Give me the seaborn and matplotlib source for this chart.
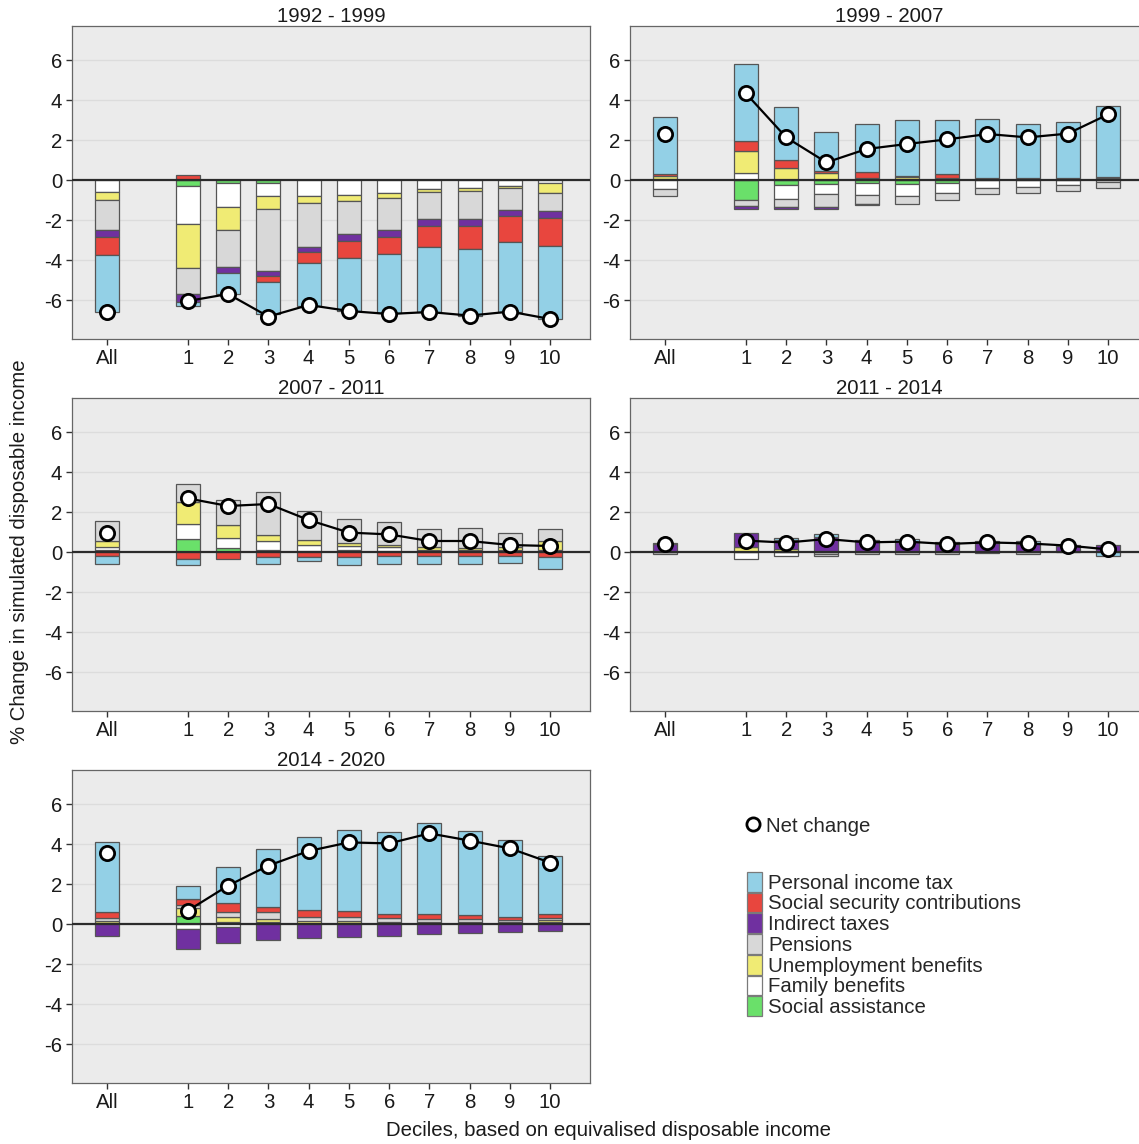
import numpy as np
import pandas as pd
import matplotlib
matplotlib.use("Agg")
import matplotlib.pyplot as plt
import seaborn as sns
from matplotlib.patches import Patch
from matplotlib.lines import Line2D

# ---------------- data ----------------
groups = ["All", "1", "2", "3", "4", "5", "6", "7", "8", "9", "10"]
periods = ["1992 - 1999", "1999 - 2007", "2007 - 2011", "2011 - 2014", "2014 - 2020"]
components = ["Personal income tax", "Social security contributions", "Indirect taxes",
              "Pensions", "Unemployment benefits", "Family benefits", "Social assistance"]
comp_colors = ["#93D0E6", "#E8463E", "#7030A0", "#D8D8D8", "#F0EB74", "#FFFFFF", "#6AE06A"]

# 1992 - 1999
pit_1 = [-2.87, -0.20, -1.03, -1.58, -2.12, -2.63, -2.95, -3.28, -3.33, -3.53, -3.67]
ssc_1 = [-0.92, 0.23, 0.00, -0.30, -0.55, -0.87, -0.87, -1.05, -1.18, -1.27, -1.37]
ind_1 = [-0.33, -0.38, -0.33, -0.28, -0.28, -0.33, -0.33, -0.33, -0.33, -0.32, -0.37]
pen_1 = [-1.50, -1.32, -1.82, -3.08, -2.17, -1.67, -1.63, -1.33, -1.42, -1.08, -0.88]
une_1 = [-0.40, -2.18, -1.18, -0.67, -0.38, -0.30, -0.22, -0.15, -0.12, -0.12, -0.50]
fam_1 = [-0.60, -1.90, -1.17, -0.65, -0.78, -0.75, -0.67, -0.47, -0.42, -0.30, -0.17]
sa_1 = [0.00, -0.30, -0.17, -0.13, 0.00, 0.00, 0.00, 0.00, 0.00, 0.00, 0.00]
net_1 = [-6.62, -6.05, -5.70, -6.83, -6.25, -6.55, -6.70, -6.60, -6.78, -6.58, -6.95]

# 1999 - 2007
pit_2 = [2.87, 3.85, 2.63, 1.91, 2.38, 2.78, 2.73, 2.93, 2.74, 2.78, 3.57]
ssc_2 = [0.10, 0.48, 0.42, 0.14, 0.28, 0.00, 0.20, 0.00, 0.00, 0.00, 0.00]
ind_2 = [0.00, -0.17, -0.13, -0.10, -0.05, 0.05, 0.00, 0.10, 0.08, 0.10, 0.07]
pen_2 = [-0.35, -0.28, -0.36, -0.65, -0.45, -0.43, -0.37, -0.33, -0.34, -0.28, -0.30]
une_2 = [0.13, 1.14, 0.58, 0.33, 0.12, 0.15, 0.08, 0.00, 0.00, 0.00, 0.08]
fam_2 = [-0.45, 0.33, -0.72, -0.50, -0.60, -0.57, -0.50, -0.38, -0.33, -0.25, -0.12]
sa_2 = [0.05, -1.00, -0.25, -0.22, -0.15, -0.22, -0.13, 0.00, 0.00, 0.00, 0.00]
net_2 = [2.28, 4.33, 2.13, 0.88, 1.55, 1.80, 2.03, 2.30, 2.13, 2.32, 3.28]

# 2007 - 2011
pit_3 = [-0.42, -0.28, 0.00, -0.39, -0.16, -0.40, -0.42, -0.40, -0.42, -0.37, -0.62]
ssc_3 = [-0.20, -0.37, -0.33, -0.23, -0.27, -0.27, -0.20, -0.20, -0.20, -0.20, -0.23]
ind_3 = [0.00, 0.00, 0.00, 0.00, 0.00, 0.00, 0.00, 0.00, 0.00, 0.00, 0.00]
pen_3 = [1.02, 0.90, 1.25, 2.13, 1.47, 1.16, 1.13, 0.90, 1.00, 0.74, 0.60]
une_3 = [0.28, 1.10, 0.63, 0.30, 0.23, 0.17, 0.12, 0.13, 0.10, 0.13, 0.45]
fam_3 = [0.17, 0.75, 0.54, 0.45, 0.30, 0.20, 0.16, 0.00, 0.00, 0.00, 0.00]
sa_3 = [0.10, 0.63, 0.18, 0.10, 0.05, 0.10, 0.07, 0.10, 0.08, 0.10, 0.10]
net_3 = [0.97, 2.68, 2.30, 2.40, 1.60, 0.97, 0.88, 0.55, 0.55, 0.35, 0.30]

# 2011 - 2014
pit_4 = [0.08, 0.00, 0.08, 0.15, 0.05, 0.13, 0.12, 0.12, 0.17, 0.05, -0.20]
ssc_4 = [0.00, 0.00, 0.00, 0.00, 0.00, 0.00, 0.00, 0.00, 0.00, 0.00, 0.00]
ind_4 = [0.38, 0.68, 0.47, 0.71, 0.55, 0.50, 0.40, 0.43, 0.40, 0.30, 0.30]
pen_4 = [-0.08, 0.00, 0.00, -0.10, -0.12, -0.12, -0.12, -0.07, -0.10, 0.00, 0.00]
une_4 = [0.00, 0.25, 0.13, 0.02, 0.00, 0.00, 0.00, 0.00, 0.00, 0.00, 0.03]
fam_4 = [0.00, -0.35, -0.20, -0.10, 0.00, 0.00, 0.00, 0.00, 0.00, 0.00, 0.00]
sa_4 = [0.00, 0.00, 0.00, 0.00, 0.00, 0.00, 0.00, 0.00, 0.00, 0.00, 0.00]
net_4 = [0.38, 0.57, 0.47, 0.65, 0.48, 0.52, 0.40, 0.48, 0.43, 0.32, 0.13]

# 2014 - 2020
pit_5 = [3.52, 0.67, 1.84, 2.92, 3.65, 4.07, 4.10, 4.59, 4.24, 3.83, 2.92]
ssc_5 = [0.26, 0.28, 0.41, 0.25, 0.33, 0.32, 0.24, 0.25, 0.20, 0.17, 0.20]
ind_5 = [-0.58, -1.00, -0.80, -0.80, -0.72, -0.63, -0.58, -0.52, -0.47, -0.42, -0.33]
pen_5 = [0.17, 0.17, 0.25, 0.33, 0.22, 0.16, 0.16, 0.13, 0.13, 0.10, 0.08]
une_5 = [0.10, 0.38, 0.25, 0.13, 0.15, 0.10, 0.06, 0.05, 0.05, 0.05, 0.12]
fam_5 = [0.05, -0.25, -0.17, 0.00, 0.00, 0.07, 0.06, 0.05, 0.05, 0.05, 0.03]
sa_5 = [0.00, 0.42, 0.12, 0.12, 0.00, 0.00, 0.00, 0.00, 0.00, 0.00, 0.05]
net_5 = [3.55, 0.67, 1.92, 2.92, 3.65, 4.08, 4.03, 4.53, 4.17, 3.78, 3.07]

period_series = [
    (pit_1, ssc_1, ind_1, pen_1, une_1, fam_1, sa_1, net_1),
    (pit_2, ssc_2, ind_2, pen_2, une_2, fam_2, sa_2, net_2),
    (pit_3, ssc_3, ind_3, pen_3, une_3, fam_3, sa_3, net_3),
    (pit_4, ssc_4, ind_4, pen_4, une_4, fam_4, sa_4, net_4),
    (pit_5, ssc_5, ind_5, pen_5, une_5, fam_5, sa_5, net_5),
]

rows = []
for period, series in zip(periods, period_series):
    for comp, vals in zip(components, series[:7]):
        for g, v in zip(groups, vals):
            rows.append({"period": period, "component": comp, "group": g, "value": v})
df = pd.DataFrame(rows)
net_rows = []
for period, series in zip(periods, period_series):
    for g, v in zip(groups, series[7]):
        net_rows.append({"period": period, "group": g, "net": v})
net_df = pd.DataFrame(net_rows)

xmap = {"All": -1.0}
for i in range(1, 11):
    xmap[str(i)] = float(i)
df["x"] = df["group"].map(xmap)
net_df["x"] = net_df["group"].map(xmap)

# ---------------- style ----------------
FS = 14.7
sns.set_theme(style="ticks")
plt.rcParams["font.family"] = ["Liberation Sans", "DejaVu Sans"]
plt.rcParams["font.size"] = FS
color_of = dict(zip(components, comp_colors))
stack_order = components[::-1]  # stacked from zero outward

W, H = 1139, 1144
fig = plt.figure(figsize=(W / 100, H / 100), dpi=100)

col_left = [72, 630]
row_zero = [180, 552, 924]
ax_w = 518
units_top, units_bot = 7.7, 7.95
ppu = 20.0

axes = []
for k in range(5):
    r, c = divmod(k, 2)
    top_px = row_zero[r] - units_top * ppu
    h_px = (units_top + units_bot) * ppu
    rect = [col_left[c] / W, 1 - (top_px + h_px) / H, ax_w / W, h_px / H]
    axes.append(fig.add_axes(rect))

bar_w = 0.6
edge = "#555555"
for ax, period in zip(axes, periods):
    ax.set_facecolor("#EBEBEB")
    ax.set_axisbelow(True)
    ax.yaxis.grid(True, color="#DCDCDC", lw=1.0)
    ax.xaxis.grid(False)
    sub = df[df["period"] == period]
    pos_base = np.zeros(len(groups))
    neg_base = np.zeros(len(groups))
    xs = np.array([xmap[g] for g in groups])
    for comp in stack_order:
        vals = sub[sub["component"] == comp].set_index("group").loc[groups, "value"].to_numpy()
        pos = vals > 0
        neg = vals < 0
        if pos.any():
            ax.bar(xs[pos], vals[pos], bottom=pos_base[pos], width=bar_w,
                   color=color_of[comp], edgecolor=edge, linewidth=0.9, zorder=2)
            pos_base[pos] += vals[pos]
        if neg.any():
            ax.bar(xs[neg], vals[neg], bottom=neg_base[neg], width=bar_w,
                   color=color_of[comp], edgecolor=edge, linewidth=0.9, zorder=2)
            neg_base[neg] += vals[neg]
    ax.axhline(0, color="#2b2b2b", lw=1.6, zorder=3)
    nsub = net_df[net_df["period"] == period]
    sns.lineplot(data=nsub[nsub["group"] != "All"], x="x", y="net", ax=ax,
                 color="black", lw=1.6, zorder=4)
    sns.scatterplot(data=nsub, x="x", y="net", ax=ax, s=105, color="white",
                    edgecolor="black", linewidth=2.0, zorder=5)
    ax.set_xlim(-1.88, 10.99)
    ax.set_ylim(-units_bot, units_top)
    ax.set_xticks([xmap[g] for g in groups])
    ax.set_xticklabels(groups)
    ax.set_yticks([-6, -4, -2, 0, 2, 4, 6])
    ax.set_yticklabels(["-6", "-4", "-2", "0", "2", "4", "6"])
    ax.tick_params(axis="both", length=4, width=1, color="#333333", labelsize=FS,
                   labelcolor="#1a1a1a", pad=3, direction="out")
    ax.set_xlabel("")
    ax.set_ylabel("")
    for s in ax.spines.values():
        s.set_color("#666666")
        s.set_linewidth(0.9)
        s.set_visible(True)
    ax.set_title(period, fontsize=FS, pad=3, color="#1a1a1a")
    if ax.get_legend() is not None:
        ax.get_legend().remove()

fig.text(20 / W, 1 - 552 / H, "% Change in simulated disposable income", rotation=90,
         ha="center", va="center", fontsize=FS, color="#1a1a1a")
fig.text(608 / W, 1 - 1131 / H, "Deciles, based on equivalised disposable income",
         ha="center", va="center", fontsize=FS, color="#1a1a1a")

net_handle = Line2D([], [], marker="o", ls="none", mfc="white", mec="black", mew=2.0, ms=9.5)
fig.legend(handles=[net_handle], labels=["Net change"], loc="center left",
           bbox_to_anchor=(746 / W, 1 - 826 / H), frameon=False, fontsize=FS,
           handlelength=0.7, handletextpad=0.3, borderpad=0, borderaxespad=0)

patch_handles = [Patch(facecolor=color_of[c], edgecolor="#7a7a7a", lw=0.9) for c in components]
fig.legend(handles=patch_handles, labels=components, loc="upper left",
           bbox_to_anchor=(747 / W, 1 - 872 / H), frameon=False, fontsize=FS,
           handlelength=0.74, handleheight=1.1, labelspacing=0.0, handletextpad=0.3,
           borderpad=0, borderaxespad=0)

fig.savefig("out.png", dpi=100)
